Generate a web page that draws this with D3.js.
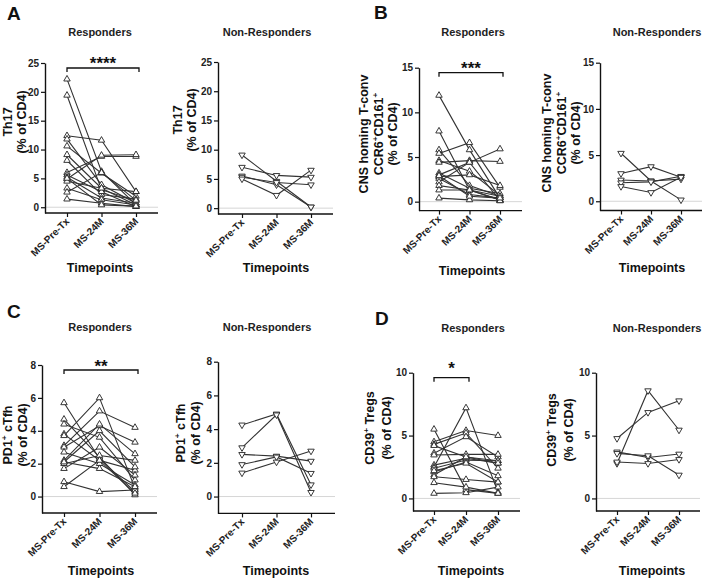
<!DOCTYPE html>
<html><head><meta charset="utf-8">
<script src="https://cdn.jsdelivr.net/npm/d3@7"></script>
<style>body{margin:0;background:#fff}svg{display:block;font-family:"Liberation Sans",Arial,sans-serif}</style>
</head><body><svg id="c" width="709" height="578"></svg>
<script>
const timepoints = ["MS-Pre-Tx", "MS-24M", "MS-36M"];
const groups = ["Responders", "Non-Responders"];

// Panel A: Th17 (% of CD4)
const th17Responders = [
  [22.2, 6.2, 0.4], [19.4, 3.0, 1.2], [12.4, 11.6, 2.7], [11.8, 3.9, 0.7],
  [10.6, 5.9, 1.9], [9.1, 3.3, 0.4], [8.1, 2.2, 1.4], [6.0, 8.8, 8.8],
  [5.6, 2.7, 0.1], [4.9, 9.0, 9.1], [4.5, 3.3, 2.7], [5.2, 1.6, 0.7],
  [3.3, 1.3, 0.4], [2.6, 6.0, 1.2], [1.4, 0.7, 0.1], [5.0, 0.4, 0.2]
];
const th17NonResponders = [
  [9.1, 4.6, 0.2], [7.0, 5.6, 5.3], [5.5, 4.0, 0.2], [5.3, 4.4, 4.0], [5.0, 2.2, 6.5]
];
// Panel B: CNS homing T-conv CCR6+CD161+ (% of CD4)
const cnsResponders = [
  [11.9, 5.8, 0.4], [7.9, 1.3, 0.2], [5.8, 1.8, 0.6], [5.4, 6.6, 1.6],
  [4.6, 3.4, 0.7], [4.4, 4.6, 4.5], [3.2, 1.5, 0.9], [3.0, 4.4, 0.1],
  [2.8, 3.0, 1.8], [2.6, 0.8, 0.4], [2.2, 4.4, 5.9], [1.8, 1.3, 0.2],
  [1.3, 1.3, 0.6], [0.4, 0.2, 0.1], [2.9, 0.6, 0.4]
];
const cnsNonResponders = [
  [5.2, 2.2, 0.15], [3.0, 3.75, 2.6], [2.3, 2.2, 2.4], [2.0, 2.1, 2.7], [1.6, 0.95, 2.6]
];
// Panel C: PD1+ cTfh (% of CD4)
const pd1Responders = [
  [5.7, 2.3, 0.3], [4.7, 2.4, 0.1], [4.4, 3.6, 1.0], [3.8, 2.2, 1.6],
  [3.7, 6.0, 0.5], [3.1, 5.2, 4.2], [3.0, 4.3, 3.3], [2.7, 2.0, 0.7],
  [2.2, 4.4, 2.6], [2.1, 4.0, 1.8], [2.0, 2.5, 2.2], [1.7, 3.0, 1.3],
  [0.9, 0.3, 0.4], [0.6, 2.2, 0.2], [2.1, 1.7, 0.6]
];
const pd1NonResponders = [
  [4.25, 4.9, 0.7], [2.9, 4.85, 0.25], [2.5, 2.4, 2.1], [1.9, 2.35, 1.38], [1.4, 2.05, 2.7]
];
// Panel D: CD39+ Tregs (% of CD4)
const cd39Responders = [
  [5.5, 0.7, 0.4], [4.5, 5.4, 5.0], [4.3, 5.2, 2.4], [4.2, 3.3, 3.0],
  [3.6, 4.9, 3.3], [3.45, 3.5, 3.5], [2.65, 3.2, 2.8], [2.5, 7.2, 0.5],
  [2.4, 3.05, 3.0], [2.1, 2.9, 1.8], [1.86, 3.3, 2.8], [1.72, 1.5, 1.3],
  [1.25, 0.9, 0.4], [0.4, 0.45, 0.9], [2.2, 2.8, 1.3]
];
const cd39NonResponders = [
  [4.77, 6.84, 7.77], [2.78, 8.57, 5.44], [3.7, 3.26, 3.53], [3.58, 3.4, 1.86], [2.9, 2.78, 3.1]
];

const th17Ticks = [0, 5, 10, 15, 20, 25];
const cnsTicks = [0, 5, 10, 15];
const pd1Ticks = [0, 2, 4, 6, 8];
const cd39Ticks = [0, 5, 10];

const th17Label = ["Th17", "(% of CD4)"];
const cnsLabel = ["CNS homing T-conv", "CCR6^+CD161^+", "(% of CD4)"];
const pd1Label = ["PD1^+ cTfh", "(% of CD4)"];
const cd39Label = ["CD39^+ Tregs", "(% of CD4)"];

const sigA = { from: 0, to: 2, text: "****" };
const sigB = { from: 0, to: 2, text: "***" };
const sigC = { from: 0, to: 2, text: "**" };
const sigD = { from: 0, to: 1, text: "*" };

const svg = d3.select("#c");

// layout (positions only)
const panels = [
  { data: th17Responders, group: 0, domain: [-1, 25], ticks: th17Ticks, label: th17Label, sig: sigA,
    axisX: 45, cat: [67, 136], xEnd: 158, yR: [213, 63], titleX: 100, titleY: 36,
    labX: [8, 22], labY: 122, timeX: 100, timeY: 272, up: true, starY: 69 },
  { data: th17NonResponders, group: 1, domain: [-1, 25], ticks: th17Ticks, label: th17Label,
    axisX: 218, cat: [242, 311], xEnd: 333, yR: [214, 62], titleX: 267, titleY: 36,
    labX: [178, 192], labY: 120, timeX: 276, timeY: 272, up: false },
  { data: cnsResponders, group: 0, domain: [-1, 15], ticks: cnsTicks, label: cnsLabel, sig: sigB,
    axisX: 419, cat: [439, 500], xEnd: 522, yR: [210.6, 67.7], titleX: 473, titleY: 36,
    labX: [364, 379, 393], labY: 134, timeX: 472, timeY: 275, up: true, starY: 74 },
  { data: cnsNonResponders, group: 1, domain: [-1, 15], ticks: cnsTicks, label: cnsLabel,
    axisX: 600, cat: [621, 681], xEnd: 702, yR: [210.5, 62.7], titleX: 657, titleY: 36,
    labX: [547, 562, 576], labY: 133, timeX: 652, timeY: 272, up: false },
  { data: pd1Responders, group: 0, domain: [-1, 8], ticks: pd1Ticks, label: pd1Label, sig: sigC,
    axisX: 42, cat: [64, 135], xEnd: 157, yR: [513, 365], titleX: 100, titleY: 331,
    labX: [8, 23], labY: 435, timeX: 101, timeY: 575, up: true, starY: 372 },
  { data: pd1NonResponders, group: 1, domain: [-1, 8], ticks: pd1Ticks, label: pd1Label,
    axisX: 218, cat: [242, 311], xEnd: 335, yR: [513.4, 361.7], titleX: 267, titleY: 331,
    labX: [181, 196], labY: 433, timeX: 276, timeY: 575, up: false },
  { data: cd39Responders, group: 0, domain: [-1, 10], ticks: cd39Ticks, label: cd39Label, sig: sigD,
    axisX: 413, cat: [434, 498], xEnd: 520, yR: [511, 372.7], titleX: 473, titleY: 332,
    labX: [370, 387], labY: 428, timeX: 471, timeY: 575, up: true, starY: 374 },
  { data: cd39NonResponders, group: 1, domain: [-1, 10], ticks: cd39Ticks, label: cd39Label,
    axisX: 596, cat: [617, 679], xEnd: 700, yR: [511, 372.7], titleX: 657, titleY: 332,
    labX: [552, 569], labY: 430, timeX: 652, timeY: 575, up: false }
];

const letters = [
  { t: "A", x: 7, y: 20 }, { t: "B", x: 374, y: 19 },
  { t: "C", x: 7, y: 318 }, { t: "D", x: 375, y: 325 }
];

letters.forEach(l => svg.append("text").attr("x", l.x).attr("y", l.y)
  .attr("font-size", 19).attr("font-weight", "bold").attr("fill", "#111").text(l.t));

function addLabelLine(textSel, str, fs) {
  const parts = str.split("^+");
  const shift = fs * 0.4;
  let pending = 0;
  parts.forEach((p, i) => {
    if (p.length) {
      textSel.append("tspan").attr("dy", pending).attr("font-size", fs).text(p);
      pending = 0;
    }
    if (i < parts.length - 1) {
      textSel.append("tspan").attr("font-size", fs * 0.65).attr("dy", pending - shift).text("+");
      pending = shift;
    }
  });
}

panels.forEach(p => {
  const g = svg.append("g");
  const x = d3.scalePoint().domain(timepoints).range(p.cat);
  const y = d3.scaleLinear().domain(p.domain).range(p.yR);

  // zero reference line
  g.append("line").attr("x1", p.axisX).attr("x2", p.xEnd)
    .attr("y1", y(0)).attr("y2", y(0)).attr("stroke", "#d6d6d6").attr("stroke-width", 1);

  // y axis
  const ya = g.append("g").attr("transform", `translate(${p.axisX},0)`)
    .call(d3.axisLeft(y).tickValues(p.ticks).tickSize(4).tickSizeOuter(0).tickPadding(2).tickFormat(d3.format("d")));
  ya.select(".domain").attr("stroke", "#111").attr("stroke-width", 1.4);
  ya.selectAll(".tick line").attr("stroke", "#111").attr("stroke-width", 1.2);
  ya.selectAll(".tick text").attr("font-size", 10).attr("font-weight", "bold").attr("fill", "#222")
    .attr("font-family", "Liberation Sans, Arial, sans-serif");

  // x axis
  const base = p.yR[0];
  const xa = g.append("g").attr("transform", `translate(0,${base})`)
    .call(d3.axisBottom(x).tickSize(4).tickSizeOuter(0).tickFormat(""));
  xa.select(".domain").attr("d", `M${p.axisX},0H${p.xEnd}`).attr("stroke", "#111").attr("stroke-width", 1.4);
  xa.selectAll(".tick line").attr("stroke", "#111").attr("stroke-width", 1.2);
  timepoints.forEach(t => {
    g.append("text").attr("transform", `translate(${x(t) + 3},${base + 9}) rotate(-45)`)
      .attr("text-anchor", "end").attr("font-size", 10).attr("font-weight", "bold")
      .attr("fill", "#222").text(t);
  });

  // subject lines
  const line = d3.line().x((d, i) => x(timepoints[i])).y(d => y(d));
  g.selectAll("path.subj").data(p.data).enter().append("path").attr("class", "subj")
    .attr("d", line).attr("fill", "none").attr("stroke", "#333").attr("stroke-width", 1.1);

  // markers
  const sym = d3.symbol().type(d3.symbolTriangle).size(18);
  p.data.forEach(row => row.forEach((v, i) => {
    g.append("path").attr("d", sym())
      .attr("transform", `translate(${x(timepoints[i])},${y(v)})${p.up ? "" : " rotate(180)"}`)
      .attr("fill", "#fff").attr("stroke", "#222").attr("stroke-width", 0.9);
  }));

  // significance bracket
  if (p.sig) {
    const x1 = x(timepoints[p.sig.from]), x2 = x(timepoints[p.sig.to]) + 3;
    const by = p.yR[1] + 5;
    g.append("path").attr("d", `M${x1},${by + 4}V${by}H${x2}V${by + 4}`)
      .attr("fill", "none").attr("stroke", "#111").attr("stroke-width", 1.3);
    g.append("text").attr("x", (x1 + x2) / 2).attr("y", p.starY).attr("text-anchor", "middle")
      .attr("font-size", 17).attr("font-weight", "bold").attr("fill", "#111").text(p.sig.text);
  }

  // title
  g.append("text").attr("x", p.titleX).attr("y", p.titleY).attr("text-anchor", "middle")
    .attr("font-size", 11).attr("font-weight", "bold").attr("fill", "#222").text(groups[p.group]);

  // y label
  const fs = 12.5;
  p.label.forEach((s, i) => {
    const t = g.append("text")
      .attr("transform", `translate(${p.labX[i] + fs * 0.35},${p.labY}) rotate(-90)`)
      .attr("text-anchor", "middle").attr("font-weight", "bold").attr("fill", "#111");
    addLabelLine(t, s, fs);
  });

  // x title
  g.append("text").attr("x", p.timeX).attr("y", p.timeY).attr("text-anchor", "middle")
    .attr("font-size", 12.5).attr("font-weight", "bold").attr("fill", "#111").text("Timepoints");
});
</script>
</body></html>
